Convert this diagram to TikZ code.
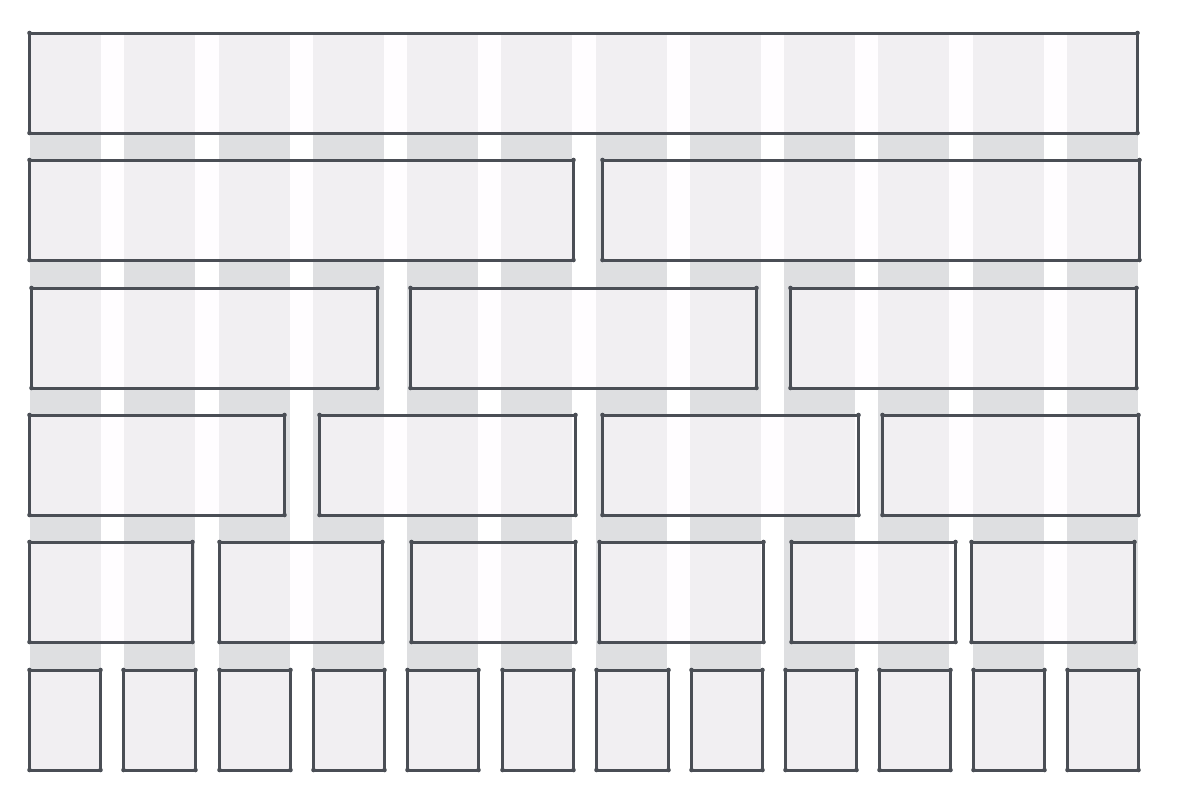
\documentclass[tikz,border=0pt]{standalone}
\begin{document}
\begin{tikzpicture}[x=1pt,y=-1pt,
  colbar/.style={fill={rgb,255:red,222;green,223;blue,225}, draw=none},
  edgecol/.style={fill={rgb,255:red,74;green,78;blue,85}},
  outline/.style={draw={rgb,255:red,74;green,78;blue,85}, line width=3pt, line join=round},
  gridbox/.style={draw=none,
    fill={rgb,255:red,255;green,252;blue,255}, fill opacity=0.58,
    rectangle, inner sep=0pt, outer sep=0pt, anchor=north west}]
\useasboundingbox (0,0) rectangle (1181,806);
% columns
\foreach \i in {0,...,11}{
  \fill[colbar] ({30+\i*94.27},33) rectangle ({101+\i*94.27},770);
}
% boxes: row, name, x1, x2
\def\rowy{{33,160,288,415,542,670}}
\foreach \r/\n/\xa/\xb in {
  0/a1/30/1138,
  1/b1/30/574, 1/b2/603/1140,
  2/c1/32/378, 2/c2/411/757, 2/c3/791/1137,
  3/d1/30/285, 3/d2/320/576, 3/d3/603/859, 3/d4/883/1139,
  4/e1/30/193, 4/e2/220/383, 4/e3/412/576, 4/e4/600/764, 4/e5/792/956, 4/e6/972/1135,
  5/f1/30/101, 5/f2/124/196, 5/f3/220/291, 5/f4/314/385, 5/f5/408/479, 5/f6/503/574,
  5/f7/597/669, 5/f8/692/763, 5/f9/786/857, 5/f10/880/951, 5/f11/974/1045, 5/f12/1068/1139}{
  \pgfmathsetmacro{\yy}{\rowy[\r]}
  \node[gridbox, minimum width={\xb-\xa}, minimum height=100] (\n) at (\xa-0.5,\yy) {};
  \draw[outline] (\n.north west) rectangle (\n.south east);
  \foreach \c in {north west,north east,south west,south east}
    \fill[edgecol] (\n.\c) circle (2.3);
}
\end{tikzpicture}
\end{document}
